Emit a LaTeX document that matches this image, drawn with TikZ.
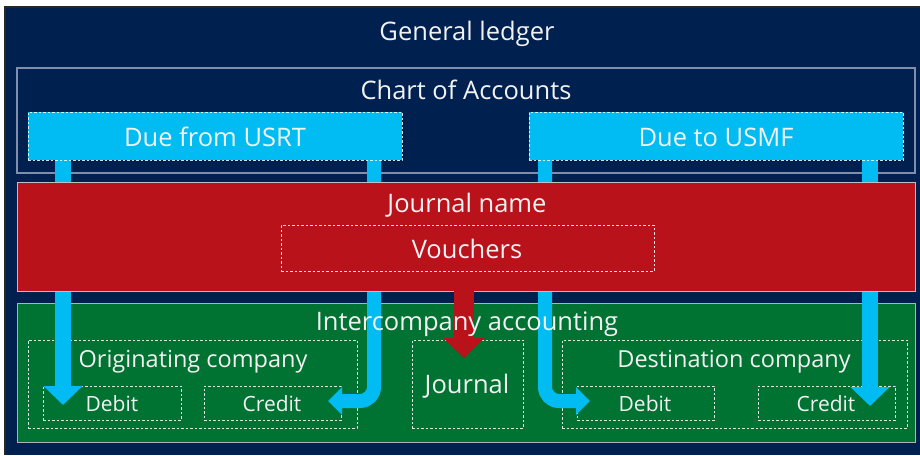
\documentclass[tikz,border=0pt]{standalone}
\usepackage{fontspec}
\setmainfont{Open Sans}
\usetikzlibrary{arrows.meta}
\definecolor{navy}{RGB}{0,32,80}
\definecolor{redbox}{RGB}{185,18,27}
\definecolor{greenbox}{RGB}{0,114,50}
\definecolor{bluebar}{RGB}{0,188,242}
\definecolor{frameline}{RGB}{128,142,172}
\definecolor{txt}{RGB}{242,242,242}
\tikzset{
  box/.style={inner sep=0pt, outer sep=0pt},
  dotbox/.style={draw=white, draw opacity=0.85, line width=0.8pt, dash pattern=on 2.5pt off 2pt},
  head/.style={txt, font=\fontsize{25.5}{30}\selectfont, anchor=base, inner sep=0pt},
  mid/.style={txt, font=\fontsize{23.5}{28}\selectfont, anchor=base, inner sep=0pt},
  small/.style={txt, font=\fontsize{21}{25}\selectfont, anchor=base, inner sep=0pt},
  barrow/.style={draw=bluebar, line width=16pt, -{Triangle[length=19pt,width=38pt]}},
  barrowS/.style={draw=bluebar, line width=14pt, rounded corners=14pt, -{Triangle[length=14pt,width=27pt]}},
  rarrow/.style={draw=redbox, line width=20pt, -{Triangle[length=20pt,width=40pt]}},
}
\begin{document}
\begin{tikzpicture}[x=1pt,y=-1pt]
\useasboundingbox (0,0) rectangle (920,455);
\fill[white] (0,0) rectangle (920,455);
% general ledger frame
\fill[navy] (5,7) rectangle (920,455);
\draw[line width=2pt, black!85] (5,455) -- (5,7) -- (920,7);
\node[head] (gl) at (467,40) {General ledger};
% chart of accounts
\draw[frameline, line width=1.2pt] (17,68) rectangle (915,173);
\node[head] (coa) at (466,99) {Chart of Accounts};
% intercompany accounting (green)
\path[fill=greenbox, draw=black!30, line width=1pt] (17,303) rectangle (915,442);
\node[box, minimum width=329pt, minimum height=88pt, dotbox] (orig) at (192.5,384) {};
\node[box, minimum width=138pt, minimum height=34pt, dotbox] (debA) at (112,403) {};
\node[box, minimum width=137pt, minimum height=34pt, dotbox] (credA) at (272.5,403) {};
\node[box, minimum width=111pt, minimum height=88pt, dotbox] (jrnl) at (467.5,384) {};
\node[box, minimum width=345pt, minimum height=88pt, dotbox] (dest) at (734.5,384) {};
\node[box, minimum width=137pt, minimum height=34pt, dotbox] (debB) at (645.5,403) {};
\node[box, minimum width=137pt, minimum height=34pt, dotbox] (credB) at (826.5,403) {};
% due boxes (positions)
\coordinate (usrtc) at (215,136);
\coordinate (usmfc) at (716,136);
\path (usrtc) node[box, minimum width=374pt, minimum height=48pt] (usrt) {};
\path (usmfc) node[box, minimum width=374pt, minimum height=48pt] (usmf) {};
% blue arrows
\coordinate (t1) at (63,405);
\coordinate (k2) at (374,401);
\coordinate (t2) at (328,401);
\coordinate (k3) at (545,401);
\coordinate (t3) at (590,401);
\coordinate (t4) at (870,406);
\draw[barrow] (usrt.south -| t1) -- (t1);
\draw[barrowS] (usrt.south -| k2) -- (k2) -- (t2);
\draw[barrowS] (usmf.south -| k3) -- (k3) -- (t3);
\draw[barrow] (usmf.south -| t4) -- (t4);
% journal name (red)
\node[box, fill=redbox, draw=black!25, line width=1pt, minimum width=898pt, minimum height=109pt] (jn) at (466,236.5) {};
\node[head] at (467,212) {Journal name};
\node[box, minimum width=373pt, minimum height=46pt, dotbox] (vouch) at (467.5,248) {};
\node[head] at (467,258) {Vouchers};
% red arrow
\coordinate (t5) at (464,358);
\draw[rarrow] (jn.south -| t5) -- (t5);
% due boxes drawn
\node[box, fill=bluebar, dotbox, minimum width=374pt, minimum height=48pt] at (usrtc) {};
\node[box, fill=bluebar, dotbox, minimum width=374pt, minimum height=48pt] at (usmfc) {};
\node[head] at (215,146) {Due from USRT};
\node[head] at (716,146) {Due to USMF};
% texts in green area
\node[head] at (467,330) {Intercompany accounting};
\node[mid] at (193,367) {Originating company};
\node[mid] at (734,367) {Destination company};
\node[head] at (467,393) {Journal};
\node[small] at (112,411) {Debit};
\node[small] at (272,411) {Credit};
\node[small] at (645,411) {Debit};
\node[small] at (826,411) {Credit};
\end{tikzpicture}
\end{document}
